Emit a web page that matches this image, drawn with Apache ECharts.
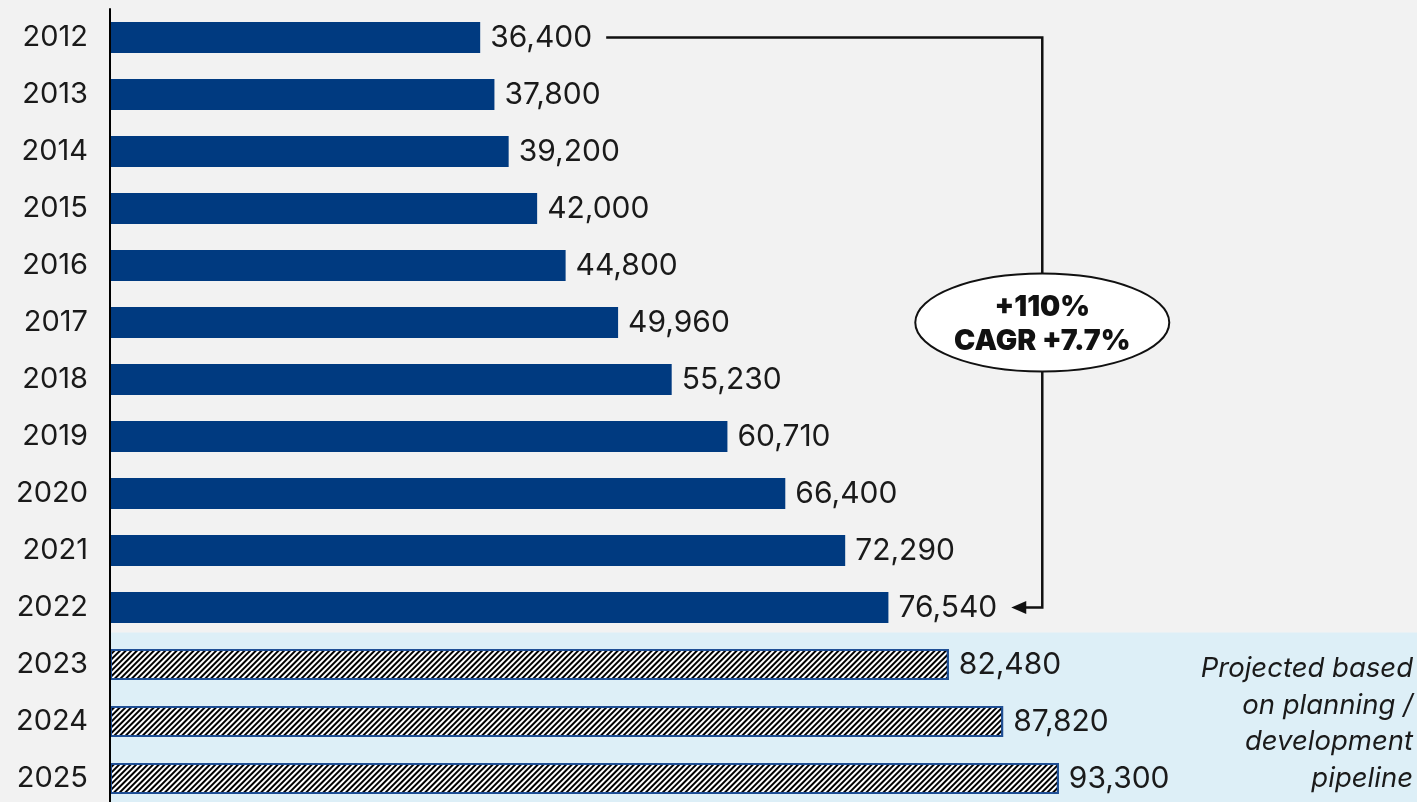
<!DOCTYPE html>
<html>
<head>
<meta charset="utf-8">
<script src="https://cdn.jsdelivr.net/npm/echarts@6/dist/echarts.min.js"></script>
<style>
html,body{margin:0;padding:0;background:#f2f2f2;}
#chart{width:1417px;height:802px;}
</style>
</head>
<body>
<div id="chart"></div>
<script>
const categories = ['2012','2013','2014','2015','2016','2017','2018','2019','2020','2021','2022','2023','2024','2025'];
const actualValues = [36400, 37800, 39200, 42000, 44800, 49960, 55230, 60710, 66400, 72290, 76540];
const projectedValues = [82480, 87820, 93300];
const annotationLines = ['+110%', 'CAGR +7.7%'];
const noteLines = ['Projected based', 'on planning /', 'development', 'pipeline'];

const FONT = 'Inter, "Noto Sans", sans-serif';
const NAVY = '#003a80';
const LABEL_SIZE = 30;
const fmt = v => v.toLocaleString('en-US');

const projectedStyle = {
  color: '#ffffff',
  borderColor: '#1f4f95',
  borderWidth: 2,
  decal: {
    symbol: 'rect',
    symbolSize: 1,
    color: '#000000',
    dashArrayX: [1, 0],
    dashArrayY: [1.3, 1.2],
    rotation: -Math.PI / 4
  }
};

const barData = categories.map((c, i) => i < actualValues.length
  ? { value: actualValues[i] }
  : { value: projectedValues[i - actualValues.length], itemStyle: projectedStyle });

const chart = echarts.init(document.getElementById('chart'), null, { renderer: 'canvas' });
const GRID_LEFT = 110;
chart.setOption({
  backgroundColor: '#f2f2f2',
  animation: false,
  grid: { left: GRID_LEFT, top: 9, width: 1017, height: 798, outerBoundsMode: 'none', containLabel: false },
  xAxis: { type: 'value', min: 0, max: 100000, show: false },
  yAxis: {
    type: 'category',
    data: categories,
    inverse: true,
    axisLine: { lineStyle: { color: '#000', width: 2 } },
    axisTick: { show: false },
    axisLabel: { fontFamily: FONT, fontSize: 29, color: '#1a1a1a', margin: 22 },
    z: 5
  },
  series: [{
    type: 'bar',
    data: barData,
    barWidth: 31,
    itemStyle: { color: NAVY },
    label: {
      show: true, position: 'right', distance: 10,
      fontFamily: FONT, fontSize: LABEL_SIZE, color: '#1a1a1a',
      formatter: p => fmt(p.value)
    },
    z: 3
  }]
});

// annotations positioned from the data
const cnv = document.createElement('canvas').getContext('2d');
function textW(t, font) { cnv.font = font; return cnv.measureText(t).width; }
const labelFont = LABEL_SIZE + 'px ' + FONT;
const first = chart.convertToPixel({ gridIndex: 0 }, [actualValues[0], categories[0]]);
const lastIdx = actualValues.length - 1;
const last = chart.convertToPixel({ gridIndex: 0 }, [actualValues[lastIdx], categories[lastIdx]]);
const startX = first[0] + 10 + textW(fmt(actualValues[0]), labelFont) + 14;
const tipX = last[0] + 10 + textW(fmt(actualValues[lastIdx]), labelFont) + 14;
const vertX = tipX + 31;
const midY = (first[1] + last[1]) / 2;

const p2023 = chart.convertToPixel({ gridIndex: 0 }, [0, categories[actualValues.length]]);
const p2024 = chart.convertToPixel({ gridIndex: 0 }, [0, categories[actualValues.length + 1]]);
const W = chart.getWidth(), H = chart.getHeight();

chart.setOption({
  graphic: [
    { type: 'rect', z: -10, silent: true,
      shape: { x: GRID_LEFT + 1, y: p2023[1] - 32, width: W - GRID_LEFT - 1, height: H - (p2023[1] - 32) },
      style: { fill: '#ddeff7' } },
    { type: 'polyline', z: 10,
      shape: { points: [[startX, first[1]], [vertX, first[1]], [vertX, last[1]], [tipX + 12, last[1]]] },
      style: { stroke: '#111', lineWidth: 2.5, fill: null } },
    { type: 'polygon', z: 10,
      shape: { points: [[tipX, last[1]], [tipX + 15, last[1] - 6.5], [tipX + 15, last[1] + 6.5]] },
      style: { fill: '#111' } },
    { type: 'ellipse', z: 11,
      shape: { cx: vertX, cy: midY, rx: 127, ry: 49 },
      style: { fill: '#ffffff', stroke: '#111', lineWidth: 2 } },
    { type: 'text', z: 12,
      style: { text: annotationLines.join('\n'), x: vertX, y: midY + 2, align: 'center', verticalAlign: 'middle',
        font: '900 28.5px ' + FONT, lineHeight: 34, fill: '#111' } },
    { type: 'text', z: 12,
      style: { text: noteLines.join('\n'), x: W - 4, y: p2024[1] + 2, align: 'right', verticalAlign: 'middle',
        font: 'italic 27.5px ' + FONT, lineHeight: 36.5, fill: '#1a1a1a' } }
  ]
});
</script>
</body>
</html>
